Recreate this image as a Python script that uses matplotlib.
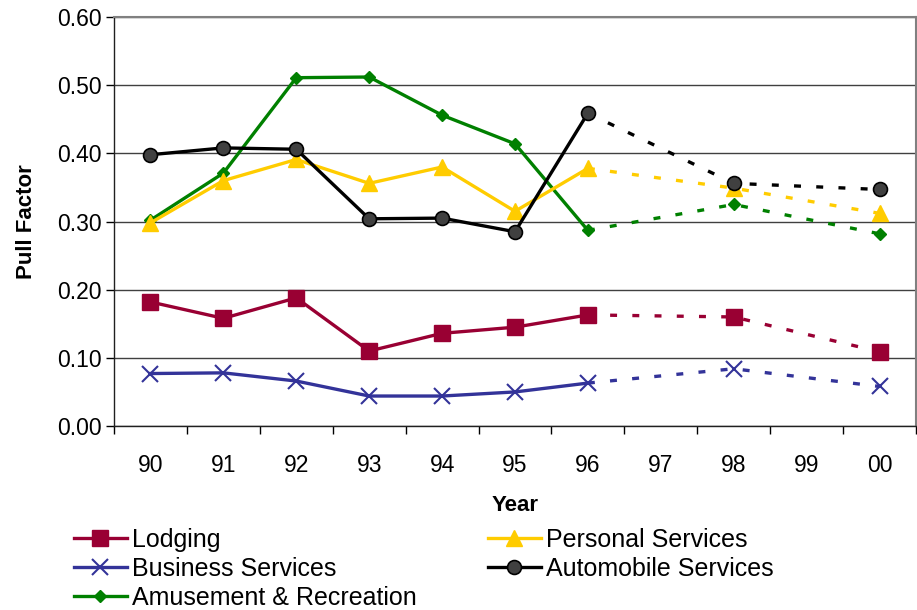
import numpy as np
import matplotlib
matplotlib.use("Agg")
import matplotlib.pyplot as plt
from matplotlib.ticker import FixedLocator, NullFormatter, FormatStrFormatter

plt.rcParams['font.family'] = ['Liberation Sans', 'DejaVu Sans']
plt.rcParams['lines.scale_dashes'] = False

# Years on the x axis (97 and 99 have no data)
years = ["90", "91", "92", "93", "94", "95", "96", "97", "98", "99", "00"]
nan = np.nan

lodging = [0.182, 0.158, 0.188, 0.110, 0.136, 0.145, 0.163, nan, 0.160, nan, 0.109]
personal = [0.298, 0.360, 0.391, 0.356, 0.380, 0.315, 0.378, nan, 0.349, nan, 0.312]
business = [0.077, 0.078, 0.066, 0.044, 0.044, 0.050, 0.063, nan, 0.084, nan, 0.058]
automobile = [0.398, 0.408, 0.406, 0.304, 0.305, 0.285, 0.459, nan, 0.356, nan, 0.347]
amusement = [0.302, 0.371, 0.511, 0.512, 0.456, 0.414, 0.287, nan, 0.325, nan, 0.282]

series = [
    ("Lodging", lodging, dict(color="#990033", marker="s", ms=11, mfc="#990033", mec="#990033")),
    ("Business Services", business, dict(color="#333399", marker="x", ms=11, mew=1.5)),
    ("Amusement & Recreation", amusement, dict(color="#008000", marker="D", ms=6.5, mfc="#008000", mec="#008000")),
    ("Personal Services", personal, dict(color="#FFCC00", marker="^", ms=11, mfc="#FFCC00", mec="#FFCC00")),
    ("Automobile Services", automobile, dict(color="black", marker="o", ms=10, mfc="#404040", mec="black", mew=1.2)),
]

fig = plt.figure(figsize=(9.17, 6.10), dpi=100)
ax = fig.add_axes([0.1243, 0.3016, 0.8746, 0.6705])

x = np.arange(len(years))
solid_n = 7  # 90..96 are drawn solid, the rest dashed

handles = []
for name, vals, style in series:
    v = np.array(vals, dtype=float)
    h, = ax.plot(x[:solid_n], v[:solid_n], lw=2.4, label=name, zorder=3, **style)
    later = ~np.isnan(v)
    later[:solid_n - 1] = False
    xs = x[later]
    vs = v[later]
    ax.plot(xs, vs, lw=2.4, dashes=(5, 11), zorder=2,
            color=style["color"], marker="none")
    ax.plot(xs[1:], vs[1:], lw=0, zorder=3, **style)
    handles.append(h)

fs = 16.5

ax.set_xlim(-0.5, len(years) - 0.5)
ax.set_ylim(0, 0.6)
ax.yaxis.set_major_locator(FixedLocator(np.arange(0, 0.61, 0.1)))
ax.yaxis.set_major_formatter(FormatStrFormatter("%.2f"))
ax.yaxis.grid(True, color="#404040", lw=1)
ax.set_axisbelow(True)

ax.xaxis.set_major_locator(FixedLocator(np.arange(-0.5, len(years), 1.0)))
ax.xaxis.set_major_formatter(NullFormatter())
ax.xaxis.set_minor_locator(FixedLocator(x))
ax.set_xticklabels(years, minor=True)
ax.tick_params(axis="x", which="minor", length=0, pad=20, labelsize=fs)
ax.tick_params(axis="x", which="major", length=6, width=1, direction="out")
ax.tick_params(axis="y", length=6, width=1, direction="out", labelsize=fs, pad=3)

for side in ("top", "right"):
    ax.spines[side].set_color("#808080")
    ax.spines[side].set_linewidth(1.5)
for side in ("left", "bottom"):
    ax.spines[side].set_color("#202020")
    ax.spines[side].set_linewidth(1)

ax.set_ylabel("Pull Factor", fontsize=16, fontweight="bold", labelpad=14)
ax.set_xlabel("Year", fontsize=16, fontweight="bold", labelpad=13)

legend_kw = dict(loc="upper left", frameon=False, fontsize=18, handlelength=2.1,
                 handletextpad=0.2, labelspacing=0.2, borderaxespad=0, borderpad=0)
fig.legend(handles=handles[:3], bbox_to_anchor=(74 / 917, 1 - 528 / 610), **legend_kw)
fig.legend(handles=handles[3:], bbox_to_anchor=(488 / 917, 1 - 528 / 610), **legend_kw)

fig.savefig("out.png", dpi=100)
